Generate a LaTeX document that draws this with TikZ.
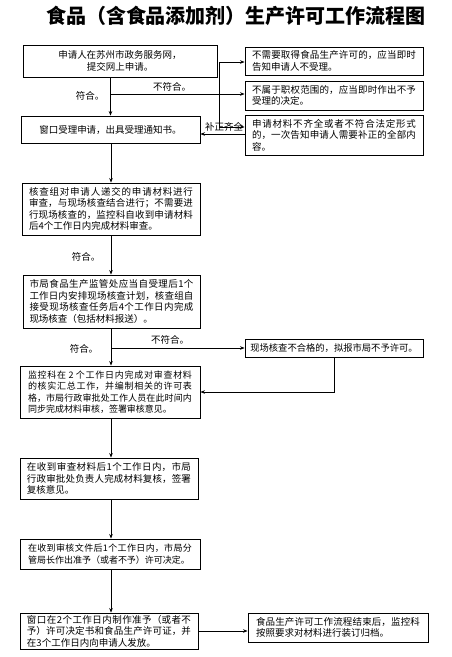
\documentclass[tikz,border=0pt]{standalone}
\usepackage{fontspec}
\setmainfont{Noto Sans CJK SC}
\XeTeXlinebreaklocale "zh"
\XeTeXlinebreakskip=0pt plus 2pt
\usetikzlibrary{arrows.meta, positioning}

\begin{document}
\begin{tikzpicture}[x=1pt, y=-1pt, >={Stealth[length=4.5pt, width=3.6pt]},
    box/.style={draw, line width=0.9pt, inner sep=0pt, align=justify, text width=164pt,
      font=\fontsize{9.5}{11.5}\selectfont},
    cbox/.style={draw, line width=0.9pt, inner sep=0pt, align=center,
      font=\fontsize{9.5}{11.5}\selectfont},
    arr/.style={->, line width=0.7pt},
    lbl/.style={font=\fontsize{9.5}{11}\selectfont, inner sep=1pt}]
    \useasboundingbox (0,0) rectangle (452,657);
    % title
    \node[font=\fontsize{20}{22}\selectfont\bfseries] (title) at (236,16)
      {食品（含食品添加剂）生产许可工作流程图};
    % main column
    \node[cbox, minimum width=194pt, minimum height=32pt] (b1) at (120,61)
      {申请人在苏州市政务服务网，\\提交网上申请。};
    \node[cbox, minimum width=179pt, minimum height=27pt] (b2) at (110.5,129.5)
      {窗口受理申请，出具受理通知书。};
    \node[box, minimum width=178pt, minimum height=52pt] (b3) at (111,209)
      {核查组对申请人递交的申请材料进行\linebreak 审查，与现场核查结合进行；不需要进\linebreak 行现场核查的，监控科自收到申请材料\linebreak 后4个工作日内完成材料审查。};
    \node[box, minimum width=177pt, minimum height=53pt] (b4) at (111.5,301.5)
      {市局食品生产监管处应当自受理后1个\linebreak 工作日内安排现场核查计划，核查组自\linebreak 接受现场核查任务后4个工作日内完成\linebreak 现场核查（包括材料报送）。};
    \node[box, minimum width=180pt, minimum height=52pt, font=\fontsize{9}{11.5}\selectfont] (b5) at (110,392)
      {监控科在 2 个工作日内完成对审查材料\linebreak 的核实汇总工作，并编制相关的许可表\linebreak 格，市局行政审批处工作人员在此时间内\linebreak 同步完成材料审核，签署审核意见。};
    \node[box, minimum width=178pt, minimum height=41pt] (b6) at (109,478.5)
      {在收到审查材料后1个工作日内，市局\linebreak 行政审批处负责人完成材料复核，签署\linebreak 复核意见。};
    \node[box, minimum width=180pt, minimum height=30pt, font=\fontsize{9}{11.5}\selectfont] (b7) at (110,554)
      {在收到审核文件后1个工作日内，市局分\linebreak 管局长作出准予（或者不予）许可决定。};
    \node[box, minimum width=178pt, minimum height=36pt] (b8) at (109,631)
      {窗口在2个工作日内制作准予（或者不\linebreak 予）许可决定书和食品生产许可证，并\linebreak 在3个工作日内向申请人发放。};
    % right column
    \node[box, minimum width=178pt, minimum height=28pt] (r1) at (334,61)
      {不需要取得食品生产许可的，应当即时\linebreak 告知申请人不受理。};
    \node[box, minimum width=178pt, minimum height=29pt] (r2) at (334,95.5)
      {不属于职权范围的，应当即时作出不予\linebreak 受理的决定。};
    \node[box, minimum width=178pt, minimum height=40pt] (r3) at (334,135)
      {申请材料不齐全或者不符合法定形式\linebreak 的，一次告知申请人需要补正的全部内\linebreak 容。};
    \node[cbox, minimum width=178pt, minimum height=18pt, font=\fontsize{9.3}{11.5}\selectfont] (r4) at (334,348)
      {现场核查不合格的，拟报市局不予许可。};
    \node[box, minimum width=180pt, minimum height=29pt] (r5) at (338,627.5)
      {食品生产许可工作流程结束后，监控科\linebreak 按照要求对材料进行装订归档。};
    % junctions
    \coordinate (j1) at (111,94);
    \coordinate (v1) at (219,62);
    \coordinate (v2) at (219,127);
    \coordinate (bz) at (245,134);
    \coordinate (j2) at (111,348);
    % connectors
    \draw[arr] (b1.south -| b2) -- (b2.north);
    \draw[arr] (j1) -- (j1 -| r2.west);
    \draw[line width=0.7pt] (v1) -- (v2);
    \draw[arr] (v1) -- (v1 -| r1.west);
    \draw[arr] (v2) -- (v2 -| r3.west);
    \draw[arr] (bz) -- (bz -| b2.east);
    \draw[arr] (b2.south -| j1) -- (b3.north -| j1);
    \draw[arr] (b3.south -| j1) -- (b4.north -| j1);
    \draw[arr] (b4.south -| j2) -- (b5.north -| j2);
    \draw[arr] (j2) -- (r4.west);
    \draw[arr] (r4.south) |- (b5.east);
    \draw[arr] (b5.south -| j1) -- (b6.north -| j1);
    \draw[arr] (b6.south -| j1) -- (b7.north -| j1);
    \draw[arr] (b7.south -| j1) -- (b8.north -| j1);
    \draw[arr] (b8.east) -- (b8.east -| r5.west);
    % labels
    \node[lbl] (l1) at (90,96) {符合。};
    \node[lbl] (l2) at (172,87) {不符合。};
    \node[lbl] (l3) at (224,127) {补正齐全};
    \node[lbl] (l4) at (86,257) {符合。};
    \node[lbl] (l5) at (84,349) {符合。};
    \node[lbl] (l6) at (170,340) {不符合。};
\end{tikzpicture}
\end{document}
